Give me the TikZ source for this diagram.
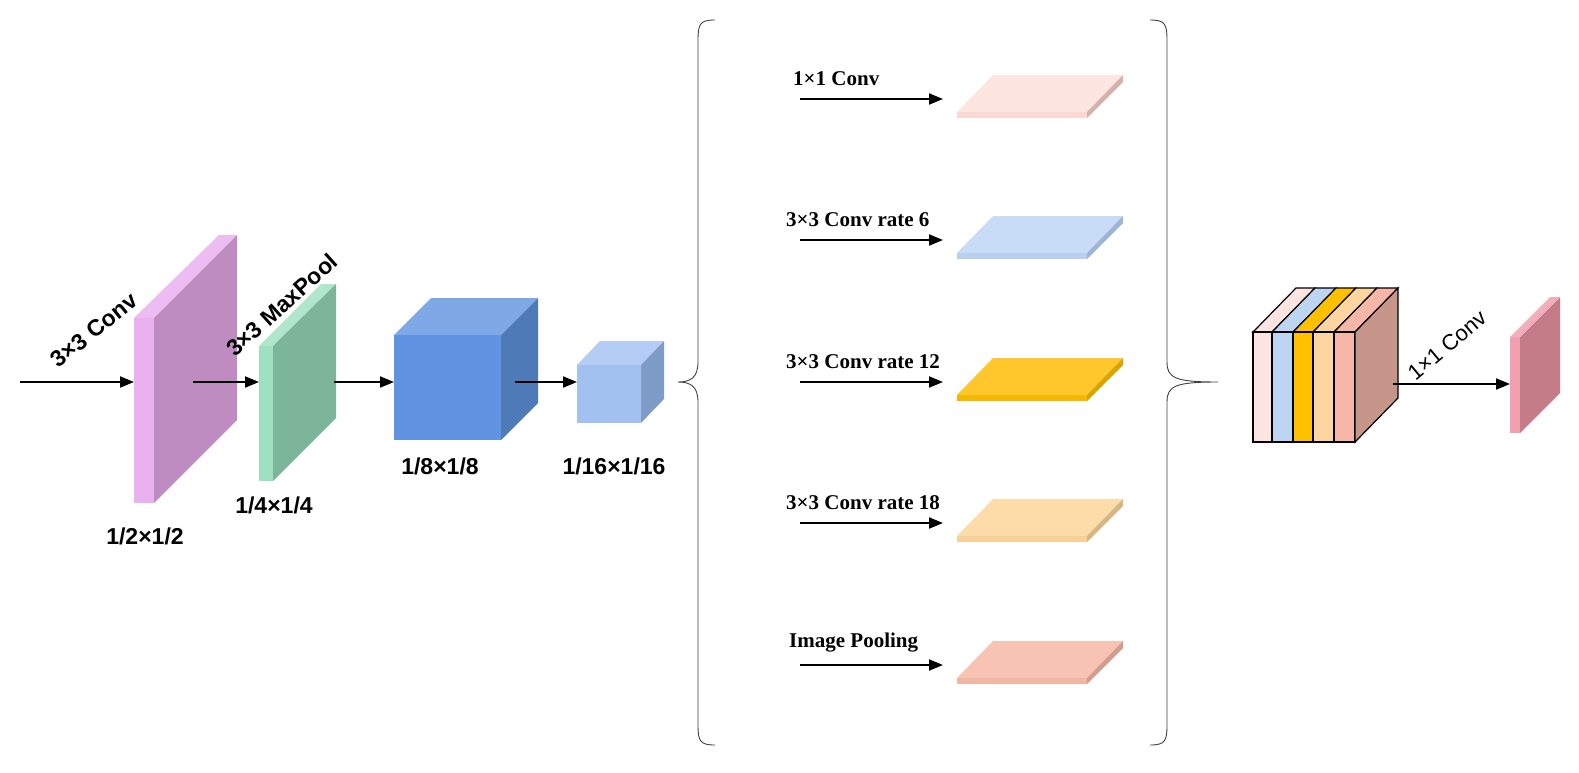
\documentclass[tikz,border=0pt]{standalone}
\usepackage{fontspec}
\setmainfont{Liberation Serif}
\newfontfamily\arialf{Liberation Sans}
\usetikzlibrary{arrows.meta,decorations.pathreplacing}
\tikzset{
  arr/.style={-{Triangle[length=14pt,width=11pt]},line width=2pt},
  lab/.style={font=\arialf\bfseries\fontsize{23}{26}\selectfont,inner sep=1pt},
  mlab/.style={font=\bfseries\fontsize{21}{24}\selectfont,anchor=south west,inner sep=0pt},
  br/.style={line width=0.9pt,draw=black!75}
}
% box: x1 y1 x2 y2 (front face, y down), dx dy offset, top, front, side colours
\newcommand\mybox[9]{%
  \fill[#7] (#1,#2) -- (#1+#5,#2-#6) -- (#3+#5,#2-#6) -- (#3,#2) -- cycle;
  \fill[#9] (#3,#2) -- (#3+#5,#2-#6) -- (#3+#5,#4-#6) -- (#3,#4) -- cycle;
  \fill[#8] (#1,#2) rectangle (#3,#4);}
\newcommand\myslab[6]{% y-top, top colour, front colour, side colour
  \fill[#2] (957,#1+37) -- (993,#1) -- (1123,#1) -- (1087,#1+37) -- cycle;
  \fill[#3] (957,#1+37) rectangle (1087,#1+43);
  \fill[#4] (1087,#1+37) -- (1123,#1) -- (1123,#1+7) -- (1087,#1+43) -- cycle;
  \coordinate (#5) at (800,#1+24);
  \coordinate (#6) at (943,#1+24);}
\definecolor{pinkF}{HTML}{E9B1F0}\definecolor{pinkS}{HTML}{BF8CC2}\definecolor{pinkT}{HTML}{EDBCF2}
\definecolor{grnF}{HTML}{9EE0C0}\definecolor{grnS}{HTML}{7DB59A}\definecolor{grnT}{HTML}{B0E6CC}
\definecolor{bF}{HTML}{6094E2}\definecolor{bT}{HTML}{7FA9E6}\definecolor{bS}{HTML}{4E7AB8}
\definecolor{lbF}{HTML}{A3C1F0}\definecolor{lbT}{HTML}{B3CDF5}\definecolor{lbS}{HTML}{7F9CC8}
\definecolor{c1}{HTML}{FDE4E0}\definecolor{c2}{HTML}{BDD5F2}\definecolor{c3}{HTML}{FFC000}
\definecolor{c4}{HTML}{FDD5A0}\definecolor{c5}{HTML}{F6B6A8}\definecolor{c6}{HTML}{C7968A}
\definecolor{oF}{HTML}{F0A0B0}\definecolor{oS}{HTML}{C47C88}
\begin{document}
\begin{tikzpicture}[x=1pt,y=-1pt]
\useasboundingbox (0,0) rectangle (1579,772);
% plate 1
\fill[pinkT] (134,318) -- (219,235) -- (237,235) -- (154,318) -- cycle;
\fill[pinkS] (154,318) -- (237,235) -- (237,420) -- (154,503) -- cycle;
\fill[pinkF] (134,318) rectangle (154,503);
% plate 2
\fill[grnT] (259,346) -- (321,284) -- (336,284) -- (273,346) -- cycle;
\fill[grnS] (273,346) -- (336,284) -- (336,418) -- (273,481) -- cycle;
\fill[grnF] (259,346) rectangle (273,481);
% cubes
\mybox{394}{335}{501}{440}{37}{37}{bT}{bF}{bS}
\mybox{577}{365}{641}{423}{23}{24}{lbT}{lbF}{lbS}
\coordinate (in) at (20,382);
\coordinate (p1) at (134,382);
\coordinate (p1o) at (193,382);
\coordinate (p2) at (259,382);
\coordinate (p2o) at (334,382);
\coordinate (b1) at (394,382);
\coordinate (b1o) at (515,382);
\coordinate (b2) at (577,382);
\draw[arr] (in) -- (p1);
\draw[arr] (p1o) -- (p2);
\draw[arr] (p2o) -- (b1);
\draw[arr] (b1o) -- (b2);
\node[lab,rotate=39] (l1) at (94,330) {3×3 Conv};
\node[lab,rotate=42] (l2) at (282,305) {3×3 MaxPool};
\node[lab] (s1) at (145,536) {1/2×1/2};
\node[lab] (s2) at (274,505) {1/4×1/4};
\node[lab] (s3) at (440,466) {1/8×1/8};
\node[lab] (s4) at (614,466) {1/16×1/16};
% braces
\draw[br] (715,20) .. controls (700,20) and (698,24) .. (698,40) -- (698,362) .. controls (698,378) and (690,382) .. (678,382)
  .. controls (690,382) and (698,386) .. (698,402) -- (698,725) .. controls (698,741) and (700,745) .. (715,745);
\draw[br] (1150,20) .. controls (1165,20) and (1167,24) .. (1167,40) -- (1167,362) .. controls (1167,378) and (1175,382) .. (1218,382)
  .. controls (1175,382) and (1167,386) .. (1167,402) -- (1167,725) .. controls (1167,741) and (1165,745) .. (1150,745);
% slabs
\definecolor{s1T}{HTML}{FDE6E1}\definecolor{s1F}{HTML}{FBD8D2}\definecolor{s1S}{HTML}{D4B2AB}
\definecolor{s2T}{HTML}{C9DCF7}\definecolor{s2F}{HTML}{B9CFF0}\definecolor{s2S}{HTML}{9EB3D6}
\definecolor{s3T}{HTML}{FFC72C}\definecolor{s3F}{HTML}{F5B800}\definecolor{s3S}{HTML}{D9A300}
\definecolor{s4T}{HTML}{FDDCAA}\definecolor{s4F}{HTML}{F8D09A}\definecolor{s4S}{HTML}{D6B681}
\definecolor{s5T}{HTML}{F7C4B4}\definecolor{s5F}{HTML}{F2B6A5}\definecolor{s5S}{HTML}{D49C8E}
\myslab{75}{s1T}{s1F}{s1S}{a1}{e1}
\myslab{216}{s2T}{s2F}{s2S}{a2}{e2}
\myslab{358}{s3T}{s3F}{s3S}{a3}{e3}
\myslab{499}{s4T}{s4F}{s4S}{a4}{e4}
\myslab{641}{s5T}{s5F}{s5S}{a5}{e5}
\foreach \i in {1,...,5}{\draw[arr] (a\i) -- (e\i);}
\node[mlab] (m1) at (793,86) {1×1 Conv};
\node[mlab] (m2) at (786,227) {3×3 Conv rate 6};
\node[mlab] (m3) at (786,369) {3×3 Conv rate 12};
\node[mlab] (m4) at (786,510) {3×3 Conv rate 18};
\node[mlab] (m5) at (789,652) {Image Pooling};
% concat cube
\begin{scope}[line width=1.2pt]
\foreach \xa/\xb/\c in {1253/1272/c1,1272/1293/c2,1293/1313/c3,1313/1334/c4,1334/1355/c5}{
  \filldraw[fill=\c,draw=black] (\xa,332) -- (\xa+43,288) -- (\xb+43,288) -- (\xb,332) -- cycle;
  \filldraw[fill=\c,draw=black] (\xa,332) rectangle (\xb,442);}
\filldraw[fill=c6,draw=black] (1355,332) -- (1398,288) -- (1398,398) -- (1355,442) -- cycle;
\end{scope}
% output plate
\fill[oS] (1520,337) -- (1560,297) -- (1560,393) -- (1520,433) -- cycle;
\fill[oF!85!white] (1510,337) -- (1550,297) -- (1560,297) -- (1520,337) -- cycle;
\fill[oF] (1510,337) rectangle (1520,433);
\coordinate (cc) at (1393,384);
\coordinate (op) at (1510,384);
\draw[arr] (cc) -- (op);
\node[font=\arialf\fontsize{22}{24}\selectfont,rotate=40,inner sep=1pt] (l3) at (1447,345) {1×1 Conv};
\end{tikzpicture}
\end{document}
